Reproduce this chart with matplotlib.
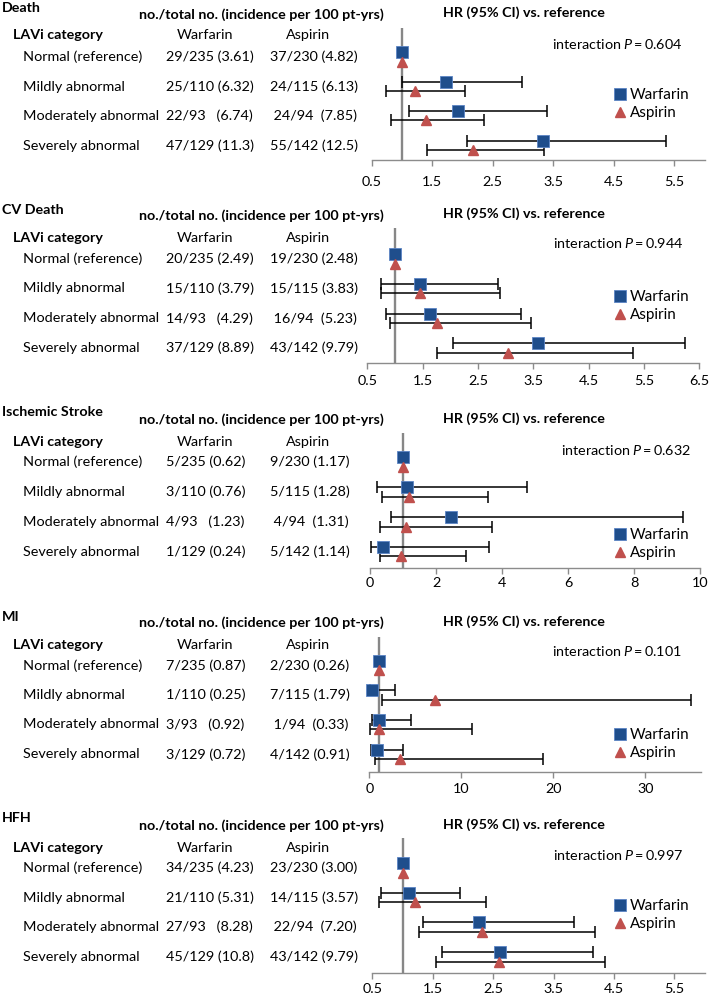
import matplotlib
matplotlib.use("Agg")
import matplotlib.pyplot as plt

plt.rcParams['font.family'] = ['Lato', 'DejaVu Sans']
plt.rcParams['mathtext.fontset'] = 'custom'
plt.rcParams['mathtext.rm'] = 'Lato'
plt.rcParams['mathtext.it'] = 'Lato:italic'

# ---------------- data ----------------
outcomes = ["Death", "CV Death", "Ischemic Stroke", "MI", "HFH"]
categories = ["Normal (reference)", "Mildly abnormal", "Moderately abnormal", "Severely abnormal"]
arms = ["Warfarin", "Aspirin"]
interaction_p = ["0.604", "0.944", "0.632", "0.101", "0.997"]

warfarin_text = [
    ["29/235 (3.61)", "25/110 (6.32)", "22/93   (6.74)", "47/129 (11.3)"],
    ["20/235 (2.49)", "15/110 (3.79)", "14/93   (4.29)", "37/129 (8.89)"],
    ["5/235 (0.62)", "3/110 (0.76)", "4/93   (1.23)", "1/129 (0.24)"],
    ["7/235 (0.87)", "1/110 (0.25)", "3/93   (0.92)", "3/129 (0.72)"],
    ["34/235 (4.23)", "21/110 (5.31)", "27/93   (8.28)", "45/129 (10.8)"],
]
aspirin_text = [
    ["37/230 (4.82)", "24/115 (6.13)", " 24/94  (7.85)", "55/142 (12.5)"],
    ["19/230 (2.48)", "15/115 (3.83)", " 16/94  (5.23)", "43/142 (9.79)"],
    ["9/230 (1.17)", "5/115 (1.28)", " 4/94  (1.31)", "5/142 (1.14)"],
    ["2/230 (0.26)", "7/115 (1.79)", " 1/94  (0.33)", "4/142 (0.91)"],
    ["23/230 (3.00)", "14/115 (3.57)", " 22/94  (7.20)", "43/142 (9.79)"],
]

# hazard ratios (reference row = 1, no CI)
hr_warf = [[1.0, 1.73, 1.93, 3.33], [1.0, 1.45, 1.63, 3.58], [1.0, 1.11, 2.44, 0.38],
           [1.0, 0.29, 1.09, 0.87], [1.0, 1.11, 2.27, 2.61]]
lo_warf = [[1.0, 1.00, 1.11, 2.07], [1.0, 0.74, 0.83, 2.04], [1.0, 0.22, 0.63, 0.03],
           [1.0, 0.04, 0.29, 0.22], [1.0, 0.64, 1.34, 1.65]]
hi_warf = [[1.0, 2.99, 3.39, 5.36], [1.0, 2.87, 3.27, 6.24], [1.0, 4.77, 9.47, 3.60],
           [1.0, 2.75, 4.49, 3.62], [1.0, 1.95, 3.84, 4.15]]
hr_asp = [[1.0, 1.22, 1.39, 2.17], [1.0, 1.46, 1.76, 3.05], [1.0, 1.17, 1.09, 0.94],
          [1.0, 7.17, 1.01, 3.33], [1.0, 1.21, 2.31, 2.60]]
lo_asp = [[1.0, 0.73, 0.82, 1.42], [1.0, 0.74, 0.91, 1.76], [1.0, 0.36, 0.31, 0.29],
          [1.0, 1.41, 0.07, 0.58], [1.0, 0.61, 1.28, 1.55]]
hi_asp = [[1.0, 2.05, 2.35, 3.34], [1.0, 2.89, 3.45, 5.31], [1.0, 3.59, 3.71, 2.92],
          [1.0, 35.0, 11.2, 18.9], [1.0, 2.38, 4.18, 4.36]]

x_ticks = [[0.5, 1.5, 2.5, 3.5, 4.5, 5.5], [0.5, 1.5, 2.5, 3.5, 4.5, 5.5, 6.5],
           [0, 2, 4, 6, 8, 10], [0, 10, 20, 30], [0.5, 1.5, 2.5, 3.5, 4.5, 5.5]]
tick_labels = [["0.5", "1.5", "2.5", "3.5", "4.5", "5.5"],
               ["0.5", "1.5", "2.5", "3.5", "4.5", "5.5", "6.5"],
               ["0", "2", "4", "6", "8", "10"], ["0", "10", "20", "30"],
               ["0.5", "1.5", "2.5", "3.5", "4.5", "5.5"]]
x_limits = [(0.5, 6.0), (0.5, 6.5), (0, 10), (0, 36), (0.5, 6.0)]

# ---------------- layout (pixels) ----------------
W, H = 709, 998
layout = [
    dict(ty=8, hy=15, hry=13, ly=35, rows=[57, 86.5, 115.5, 145.5], ay=160, top=28, xl=371.7, xr=704.5,
         ix=682, iy=44, legy=104, pad=7.4),
    dict(ty=210, hy=216, hry=214, ly=238, rows=[259, 288.5, 318.5, 348], ay=363, top=228, xl=367.3, xr=699.3,
         ix=683, iy=243, legy=306, pad=4.5),
    dict(ty=412, hy=420, hry=419, ly=442, rows=[462, 492, 522, 551.5], ay=568, top=433, xl=370, xr=700,
         ix=691, iy=450, legy=544, pad=2.2),
    dict(ty=617, hy=623, hry=622, ly=645, rows=[665.5, 695, 724.5, 754.5], ay=772, top=637, xl=369.3, xr=700.5,
         ix=682, iy=651, legy=744, pad=3.8),
    dict(ty=818, hy=826, hry=825, ly=848, rows=[868, 897.5, 927, 957], ay=973, top=838, xl=372.3, xr=704.5,
         ix=683, iy=855, legy=915, pad=3.0),
]

fig = plt.figure(figsize=(W / 100, H / 100), dpi=100)
ov = fig.add_axes([0, 0, 1, 1])
ov.set_xlim(0, W)
ov.set_ylim(H, 0)
ov.axis('off')

NAVY = '#1F4E8C'
RED = '#C0504D'
FS = 10.4
FB = 10.3

for p, L in enumerate(layout):
    # --- table text ---
    ov.text(2, L['ty'], outcomes[p], fontsize=FB, fontweight='bold', va='center', ha='left')
    ov.text(139, L['hy'], "no./total no. (incidence per 100 pt-yrs)", fontsize=FB, fontweight='bold',
            va='center', ha='left')
    ov.text(524, L['hry'], "HR (95% CI) vs. reference", fontsize=FB, fontweight='bold',
            va='center', ha='center')
    ov.text(13, L['ly'], "LAVi category", fontsize=FB, fontweight='bold', va='center', ha='left')
    ov.text(205, L['ly'], arms[0], fontsize=FS, va='center', ha='center')
    ov.text(308, L['ly'], arms[1], fontsize=FS, va='center', ha='center')
    for i, cat in enumerate(categories):
        ov.text(23, L['rows'][i], cat, fontsize=FS, va='center', ha='left')
        ov.text(166, L['rows'][i], warfarin_text[p][i], fontsize=FS, va='center', ha='left')
        ov.text(270, L['rows'][i], aspirin_text[p][i], fontsize=FS, va='center', ha='left')
    ov.text(L['ix'], L['iy'], r"interaction $P\,$=$\,$" + interaction_p[p], fontsize=FS,
            va='center', ha='right')

    # --- forest axes ---
    left = L['xl'] / W
    width = (L['xr'] - L['xl']) / W
    bottom = 1 - L['ay'] / H
    height = (L['ay'] - L['top']) / H
    ax = fig.add_axes([left, bottom, width, height])
    ax.set_xlim(*x_limits[p])
    ax.set_ylim(L['ay'], L['top'])
    ax.patch.set_alpha(0)
    ax.axvline(1.0, color='#878787', lw=1.7, zorder=1)
    ys_w = [r - 4.8 for r in L['rows']]
    ys_a = [r + 4.8 for r in L['rows']]
    for i in range(4):
        if i > 0:
            ax.errorbar(hr_warf[p][i], ys_w[i],
                        xerr=[[hr_warf[p][i] - lo_warf[p][i]], [hi_warf[p][i] - hr_warf[p][i]]],
                        fmt='none', ecolor='black', elinewidth=1.1, capsize=4, capthick=1.1, zorder=2)
            ax.errorbar(hr_asp[p][i], ys_a[i],
                        xerr=[[hr_asp[p][i] - lo_asp[p][i]], [hi_asp[p][i] - hr_asp[p][i]]],
                        fmt='none', ecolor='black', elinewidth=1.1, capsize=4, capthick=1.1, zorder=2)
    ax.plot(hr_warf[p], ys_w, linestyle='none', marker='s', markersize=8, color=NAVY,
            markeredgecolor='#5B84C4', markeredgewidth=0.6, zorder=3, label=arms[0], clip_on=False)
    ax.plot(hr_asp[p], ys_a, linestyle='none', marker='^', markersize=7.2, color=RED,
            markeredgecolor=RED, zorder=3, label=arms[1], clip_on=False)
    for s in ['top', 'right', 'left']:
        ax.spines[s].set_visible(False)
    ax.spines['bottom'].set_color('#8C8C8C')
    ax.spines['bottom'].set_linewidth(1.0)
    ax.set_yticks([])
    ax.set_xticks(x_ticks[p])
    ax.set_xticklabels(tick_labels[p], fontsize=FS)
    ax.tick_params(axis='x', direction='out', length=4, width=1.0, color='#8C8C8C', pad=L['pad'])
    ax.legend(loc='center left', bbox_to_anchor=(614, L['legy']), bbox_transform=ov.transData,
              frameon=False, fontsize=FS + 0.5, handlelength=0.8, handletextpad=0.25, borderpad=0,
              labelspacing=0.25, borderaxespad=0)

fig.savefig("out.png", dpi=100)
